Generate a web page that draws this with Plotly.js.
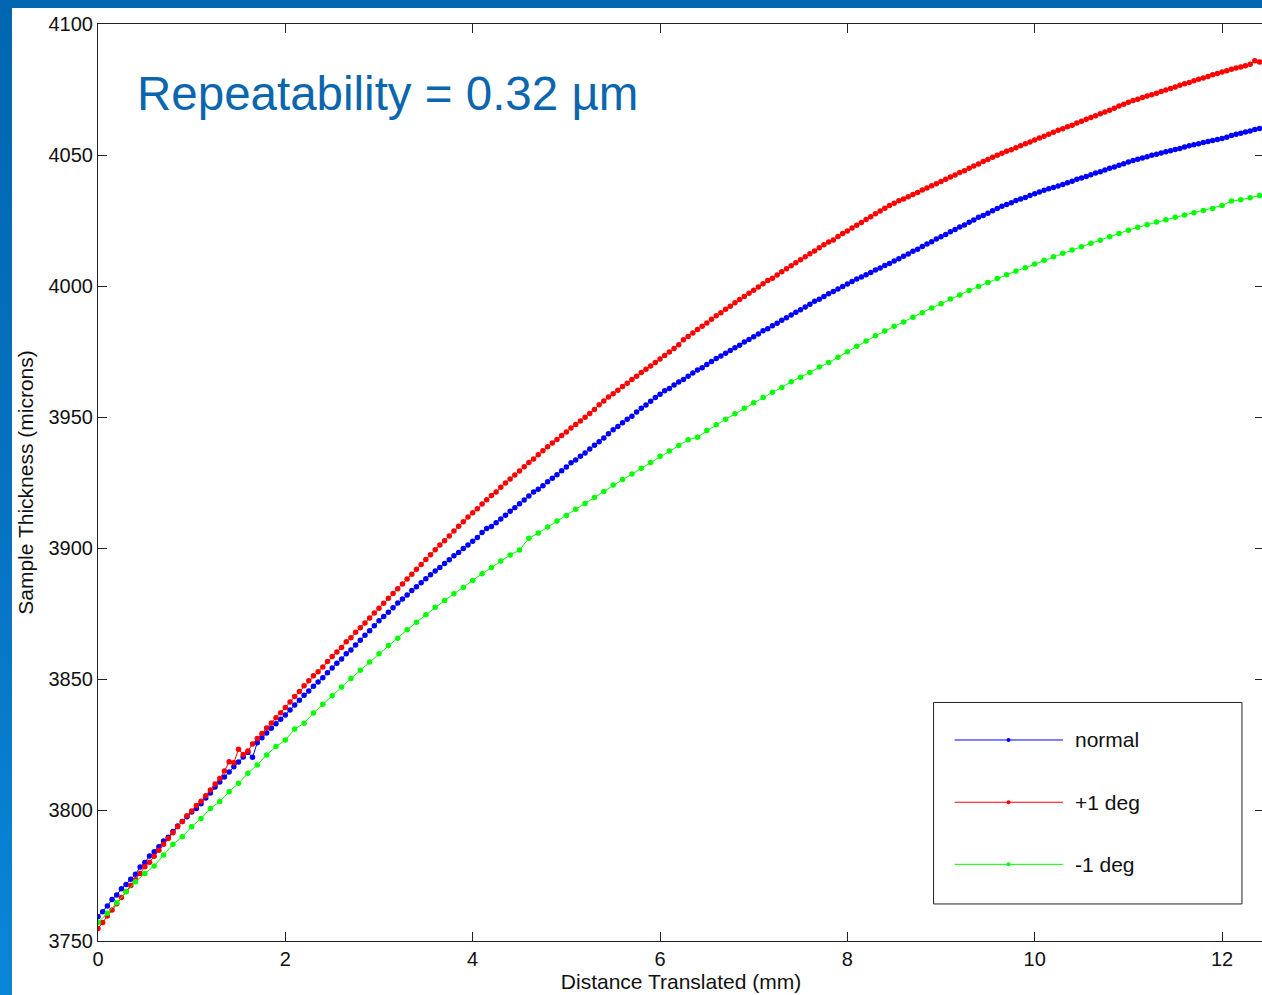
<!DOCTYPE html>
<html>
<head>
<meta charset="utf-8">
<script src="https://cdn.plot.ly/plotly-3.0.1.min.js"></script>
<style>
  html, body { margin: 0; padding: 0; width: 1262px; height: 995px; overflow: hidden; }
  body { background: linear-gradient(to bottom, #0066b0 0%, #0672c0 50%, #0a86d8 100%); position: relative; }
  #sheet { position: absolute; left: 12px; top: 8px; width: 1300px; height: 987px; background: #ffffff; }
  #chart { position: absolute; left: 0; top: 0; }
</style>
</head>
<body>
<div id="sheet"><div id="chart"></div></div>
<script>
// ---- data ----
const seriesNames = ['normal', '+1 deg', '-1 deg'];
const seriesColors = ['#0000ff', '#ff0000', '#00ff00'];

// sampling of the measurements (mm)
const normalStart = 0, normalStep = 0.05;
const plusStart = 0, plusStep = 0.05;
const minusStart = 0, minusStep = 0.1;

// "normal" thickness (microns), one row per mm
const normalThickness = [
  3759.3, 3761.2, 3763.4, 3765.8, 3767.6, 3769.9, 3771.6, 3773.6, 3775.5, 3778.2, 3780.0, 3782.4, 3784.1, 3786.0, 3788.2, 3789.6, 3791.8, 3793.9, 3795.6, 3797.4,
  3799.2, 3800.6, 3802.4, 3804.6, 3806.5, 3808.8, 3810.7, 3812.6, 3814.5, 3816.5, 3818.3, 3820.2, 3822.0, 3820.1, 3825.7, 3827.6, 3829.4, 3831.2, 3832.9, 3834.6,
  3836.3, 3838.2, 3840.1, 3841.9, 3843.8, 3845.4, 3847.2, 3848.9, 3850.5, 3852.4, 3854.2, 3856.0, 3857.6, 3859.6, 3861.1, 3863.0, 3864.8, 3866.7, 3868.4, 3870.3,
  3872.2, 3873.9, 3875.5, 3877.2, 3879.0, 3880.5, 3882.1, 3883.8, 3885.2, 3886.7, 3888.3, 3889.8, 3891.2, 3892.6, 3894.1, 3895.5, 3897.0, 3898.3, 3899.8, 3901.1,
  3902.6, 3904.0, 3905.9, 3907.4, 3908.2, 3909.6, 3911.1, 3912.5, 3914.0, 3915.4, 3916.9, 3918.3, 3919.8, 3921.4, 3922.4, 3923.8, 3925.3, 3926.6, 3928.0, 3929.5,
  3930.9, 3932.5, 3933.6, 3935.0, 3936.3, 3937.8, 3939.2, 3940.6, 3942.0, 3943.6, 3945.1, 3946.4, 3947.8, 3949.1, 3950.3, 3951.9, 3953.3, 3954.6, 3956.0, 3957.4,
  3958.7, 3960.0, 3960.9, 3962.2, 3963.4, 3964.3, 3965.6, 3966.8, 3967.9, 3968.8, 3970.0, 3971.2, 3972.3, 3973.3, 3974.3, 3975.4, 3976.4, 3977.4, 3978.6, 3979.6,
  3980.6, 3981.7, 3982.9, 3983.7, 3984.8, 3985.8, 3986.9, 3987.9, 3988.9, 3990.0, 3990.9, 3992.0, 3993.0, 3994.2, 3994.9, 3996.0, 3997.0, 3997.9, 3998.9, 3999.8,
  4000.8, 4001.7, 4002.7, 4003.4, 4004.3, 4005.2, 4006.1, 4006.9, 4007.8, 4008.6, 4009.5, 4010.4, 4011.4, 4012.2, 4013.3, 4014.0, 4015.1, 4016.0, 4016.9, 4017.9,
  4018.8, 4019.7, 4020.7, 4021.6, 4022.5, 4023.3, 4024.3, 4025.2, 4026.2, 4026.9, 4027.8, 4028.7, 4029.6, 4030.4, 4031.1, 4031.8, 4032.6, 4033.2, 4033.8, 4034.5,
  4035.2, 4035.9, 4036.5, 4037.1, 4037.6, 4038.2, 4038.7, 4039.4, 4040.0, 4040.7, 4041.2, 4041.8, 4042.5, 4043.1, 4043.6, 4044.3, 4044.9, 4045.4, 4046.1, 4046.7,
  4047.3, 4047.9, 4048.4, 4048.9, 4049.3, 4049.9, 4050.3, 4050.8, 4051.2, 4051.6, 4052.1, 4052.5, 4053.1, 4053.5, 4053.9, 4054.3, 4054.8, 4055.2, 4055.5, 4055.9,
  4056.3, 4056.8, 4057.4, 4057.9, 4058.3, 4058.8, 4059.2, 4059.7, 4060.1, 4060.4, 4060.8
];

// "+1 deg" thickness (microns)
const plusThickness = [
  3754.8, 3757.1, 3759.5, 3761.8, 3764.2, 3766.6, 3768.9, 3771.2, 3773.4, 3775.8, 3778.3, 3780.1, 3782.3, 3784.6, 3786.9, 3789.1, 3791.3, 3793.6, 3795.6, 3797.8,
  3799.6, 3801.7, 3803.3, 3805.4, 3807.6, 3809.9, 3812.0, 3814.9, 3818.4, 3818.0, 3823.2, 3821.2, 3822.5, 3825.2, 3827.3, 3829.2, 3831.3, 3833.2, 3835.2, 3837.1,
  3839.1, 3841.2, 3843.3, 3845.2, 3847.4, 3849.3, 3851.2, 3852.8, 3854.6, 3856.7, 3858.6, 3860.3, 3862.0, 3864.2, 3865.7, 3867.8, 3869.6, 3871.4, 3873.3, 3875.2,
  3877.0, 3878.9, 3880.8, 3882.6, 3884.4, 3886.3, 3888.2, 3890.0, 3891.9, 3893.7, 3895.6, 3897.4, 3899.3, 3901.1, 3902.8, 3904.6, 3906.5, 3908.3, 3910.0, 3911.8,
  3913.5, 3915.0, 3916.8, 3918.4, 3920.0, 3921.4, 3923.2, 3924.8, 3926.3, 3927.9, 3929.4, 3931.0, 3932.6, 3934.0, 3935.6, 3937.1, 3938.6, 3940.1, 3941.4, 3942.9,
  3944.3, 3945.8, 3947.1, 3948.5, 3949.9, 3951.3, 3952.9, 3954.7, 3956.1, 3957.6, 3958.9, 3960.2, 3961.6, 3962.9, 3964.3, 3965.6, 3967.0, 3968.2, 3969.5, 3970.8,
  3972.1, 3973.5, 3974.8, 3976.1, 3977.6, 3979.5, 3980.7, 3982.1, 3983.4, 3984.6, 3985.9, 3987.3, 3988.6, 3989.8, 3991.1, 3992.3, 3993.6, 3994.8, 3996.0, 3997.2,
  3998.4, 3999.6, 4000.9, 4002.1, 4003.0, 4004.2, 4005.4, 4006.6, 4007.7, 4008.9, 4010.0, 4011.2, 4012.3, 4013.4, 4014.6, 4015.7, 4016.8, 4017.6, 4018.9, 4020.0,
  4021.0, 4022.1, 4023.2, 4024.2, 4025.4, 4026.4, 4027.6, 4028.6, 4029.7, 4030.7, 4031.6, 4032.5, 4033.2, 4034.1, 4034.9, 4035.7, 4036.6, 4037.4, 4038.3, 4039.0,
  4039.9, 4040.7, 4041.6, 4042.4, 4043.3, 4044.0, 4044.9, 4045.8, 4046.6, 4047.5, 4048.3, 4049.1, 4049.9, 4050.7, 4051.4, 4052.0, 4052.8, 4053.5, 4054.3, 4055.0,
  4055.7, 4056.5, 4057.2, 4057.9, 4058.7, 4059.4, 4060.0, 4060.8, 4061.4, 4062.2, 4062.9, 4063.6, 4064.3, 4065.0, 4065.7, 4066.4, 4067.1, 4067.8, 4068.7, 4069.4,
  4070.1, 4070.8, 4071.3, 4071.9, 4072.5, 4073.0, 4073.6, 4074.2, 4074.8, 4075.4, 4076.0, 4076.6, 4077.2, 4077.7, 4078.3, 4078.9, 4079.4, 4080.0, 4080.6, 4081.1,
  4081.7, 4082.2, 4082.7, 4083.2, 4083.6, 4084.1, 4084.6, 4086.0, 4085.5, 4085.6, 4086.0
];

// "-1 deg" thickness (microns), one row per 2 mm
const minusThickness = [
  3757.1, 3760.6, 3764.6, 3768.8, 3772.6, 3775.8, 3778.6, 3782.8, 3786.9, 3789.8, 3793.6, 3796.8, 3800.6, 3803.2, 3807.0, 3810.2, 3814.0, 3817.2, 3821.0, 3824.2,
  3826.7, 3830.9, 3833.1, 3837.0, 3840.4, 3843.6, 3846.9, 3850.2, 3853.3, 3856.5, 3859.6, 3862.8, 3865.6, 3868.8, 3871.7, 3874.5, 3877.4, 3880.0, 3882.5, 3884.9,
  3887.6, 3890.2, 3892.6, 3895.0, 3897.3, 3899.2, 3903.7, 3905.7, 3908.0, 3910.3, 3912.4, 3914.8, 3917.0, 3919.3, 3921.6, 3924.0, 3926.1, 3928.2, 3930.4, 3932.6,
  3935.0, 3937.0, 3939.1, 3941.3, 3942.3, 3944.8, 3947.0, 3949.1, 3951.2, 3953.3, 3955.4, 3957.4, 3959.4, 3961.3, 3963.5, 3965.2, 3967.0, 3969.1, 3970.8, 3972.8,
  3974.9, 3977.0, 3979.0, 3981.0, 3982.8, 3984.6, 3986.3, 3988.1, 3989.8, 3991.6, 3993.2, 3995.0, 3996.6, 3998.3, 3999.8, 4001.3, 4002.9, 4004.3, 4005.7, 4007.0,
  4008.4, 4009.8, 4011.2, 4012.5, 4013.7, 4015.0, 4016.3, 4017.5, 4018.8, 4020.0, 4021.3, 4022.4, 4023.4, 4024.4, 4025.3, 4026.2, 4027.1, 4028.0, 4028.8, 4029.6,
  4030.7, 4032.4, 4032.9, 4033.7, 4034.5, 4035.3
];

const xTickValues = [0, 2, 4, 6, 8, 10, 12];
const yTickValues = [3750, 3800, 3850, 3900, 3950, 4000, 4050, 4100];
const titleText = 'Repeatability = 0.32 µm';
const xTitleText = 'Distance Translated (mm)';
const yTitleText = 'Sample Thickness (microns)';

// ---- build ----
function samplePositions(start, step, n) {
  const out = [];
  for (let i = 0; i < n; i++) out.push(+(start + i * step).toFixed(4));
  return out;
}

const seriesY = [normalThickness, plusThickness, minusThickness];
const seriesX = [
  samplePositions(normalStart, normalStep, normalThickness.length),
  samplePositions(plusStart, plusStep, plusThickness.length),
  samplePositions(minusStart, minusStep, minusThickness.length)
];

const traces = seriesY.map((ys, i) => ({
  type: 'scatter',
  mode: 'lines+markers',
  name: seriesNames[i],
  x: seriesX[i],
  y: ys,
  line: { color: seriesColors[i], width: 1 },
  marker: { color: seriesColors[i], size: 5.5, symbol: 'circle', line: { width: 0 } },
  cliponaxis: true,
  showlegend: false
}));

const FONT = '"Liberation Sans", Arial, Helvetica, sans-serif';

// legend drawn in paper coordinates of the plot area
const legBox = { x0: 0.7166, x1: 0.9811, y0: 0.0404, y1: 0.2601 };
const legLine = { x0: 0.7346, x1: 0.8276, xm: 0.7809, xt: 0.8362 };
const legRows = [0.2192, 0.1513, 0.0836];

const shapes = [{
  type: 'rect', xref: 'paper', yref: 'paper',
  x0: legBox.x0, x1: legBox.x1, y0: legBox.y0, y1: legBox.y1,
  line: { color: '#222', width: 1 }, fillcolor: '#ffffff', layer: 'above'
}];
const annotations = [];
seriesNames.forEach((nm, i) => {
  shapes.push({
    type: 'line', xref: 'paper', yref: 'paper',
    x0: legLine.x0, x1: legLine.x1, y0: legRows[i], y1: legRows[i],
    line: { color: seriesColors[i], width: 1 }, layer: 'above'
  });
  shapes.push({
    type: 'circle', xref: 'paper', yref: 'paper',
    xsizemode: 'pixel', ysizemode: 'pixel',
    xanchor: legLine.xm, yanchor: legRows[i],
    x0: -2, x1: 2, y0: -2, y1: 2,
    line: { width: 0 }, fillcolor: seriesColors[i], layer: 'above'
  });
  annotations.push({
    xref: 'paper', yref: 'paper', x: legLine.xt, y: legRows[i],
    xanchor: 'left', yanchor: 'middle', showarrow: false,
    text: nm, font: { family: FONT, size: 21, color: '#111' }
  });
});
annotations.push({
  xref: 'paper', yref: 'paper', x: 0.0317, y: 0.9247,
  xanchor: 'left', yanchor: 'middle', showarrow: false,
  text: titleText, font: { family: FONT, size: 47.5, color: '#0b66ae' }
});

const layout = {
  width: 1292, height: 987,
  margin: { l: 86, r: 40, t: 16, b: 54, pad: 0 },
  paper_bgcolor: '#ffffff', plot_bgcolor: '#ffffff',
  font: { family: FONT, size: 20, color: '#111' },
  showlegend: false,
  xaxis: {
    range: [0, 12.448], tickmode: 'array', tickvals: xTickValues,
    ticktext: xTickValues.map(String),
    ticks: 'inside', ticklen: 9, tickwidth: 1, tickcolor: '#222',
    showline: true, linecolor: '#222', linewidth: 1, mirror: 'ticks',
    showgrid: false, zeroline: false,
    tickfont: { family: FONT, size: 20, color: '#111' },
    title: { text: xTitleText, font: { family: FONT, size: 21, color: '#111' }, standoff: 4 }
  },
  yaxis: {
    range: [3750, 4100], tickmode: 'array', tickvals: yTickValues,
    ticktext: yTickValues.map(String),
    ticks: 'inside', ticklen: 9, tickwidth: 1, tickcolor: '#222',
    showline: true, linecolor: '#222', linewidth: 1, mirror: 'ticks',
    showgrid: false, zeroline: false,
    tickfont: { family: FONT, size: 20, color: '#111' },
    title: { text: yTitleText, font: { family: FONT, size: 21, color: '#111' }, standoff: 9 }
  },
  shapes: shapes,
  annotations: annotations
};

Plotly.newPlot('chart', traces, layout, { staticPlot: true, displayModeBar: false });
</script>
</body>
</html>
